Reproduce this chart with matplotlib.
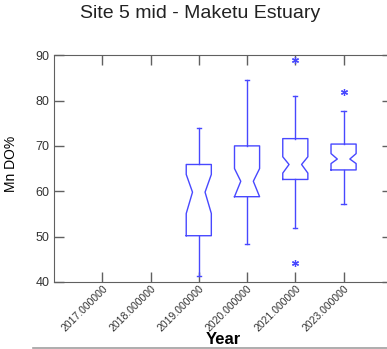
import matplotlib
matplotlib.use('Agg')
import matplotlib.pyplot as plt
import matplotlib.lines as mlines

# Mn DO% box stats
year_labels = ['2017.000000', '2018.000000', '2019.000000',
               '2020.000000', '2021.000000', '2023.000000']
box_years = ['2019.000000', '2020.000000', '2021.000000', '2023.000000']
whislo = [41.3, 48.3, 51.8, 57.1]
q1 = [50.2, 58.8, 62.6, 64.7]
cilo = [55.1, 58.8, 64.0, 66.1]
med = [59.8, 62.2, 65.9, 67.1]
cihi = [63.7, 65.0, 67.6, 68.3]
q3 = [65.9, 70.0, 71.6, 70.4]
whishi = [74.0, 84.5, 81.0, 77.7]
fliers = [[], [], [44.1, 88.9], [81.9]]

plt.rcParams['font.family'] = ['Liberation Sans', 'DejaVu Sans']

blue = '#4848ff'
axcol = '#606060'

fig = plt.figure(figsize=(3.87, 3.49), dpi=100)
ax = fig.add_axes([0.1395, 0.192, 0.873, 0.650])

stats = []
for i in range(len(box_years)):
    stats.append(dict(label=box_years[i], whislo=whislo[i], q1=q1[i], med=med[i],
                      q3=q3[i], whishi=whishi[i], cilo=cilo[i], cihi=cihi[i],
                      fliers=fliers[i]))
pos = [year_labels.index(y) + 1 for y in box_years]

ax.bxp(stats, positions=pos, widths=0.52, shownotches=True, capwidths=0.09,
       boxprops=dict(color=blue, lw=1.0),
       whiskerprops=dict(color=blue, lw=1.0),
       capprops=dict(color=blue, lw=1.0),
       medianprops=dict(lw=0),
       flierprops=dict(marker=(6, 2, 0), markeredgecolor=blue, markersize=5,
                       markeredgewidth=0.9, linestyle='none'),
       manage_ticks=False)

ax.set_xlim(0, 7)
ax.set_ylim(40, 90)
ax.set_xticks(range(1, len(year_labels) + 1))
ax.set_xticklabels(year_labels, rotation=45, ha='right', rotation_mode='anchor',
                   fontsize=7.5, color='#333333')
ax.set_yticks([40, 50, 60, 70, 80, 90])
ax.tick_params(axis='x', pad=1)
ax.tick_params(axis='y', labelsize=9, labelcolor='#333333', pad=3)
ax.tick_params(direction='in', top=True, right=True, length=7, color=axcol, width=1)
for s in ax.spines.values():
    s.set_color(axcol)

ax.set_ylabel('Mn DO%', fontsize=10)
ax.yaxis.set_label_coords(-0.106, 0.52)
ax.set_xlabel('Year', fontsize=12, fontweight='bold', labelpad=0)
ax.xaxis.set_label_coords(0.5, -0.222)
fig.text(0.517, 0.96, 'Site 5 mid - Maketu Estuary', ha='center', va='center',
         fontsize=14, color='#222222')

fig.add_artist(mlines.Line2D([0.085, 1.0], [0.004, 0.004], color='#a0a0a0',
                             lw=1.2, transform=fig.transFigure))

fig.savefig('out.png', dpi=100)
